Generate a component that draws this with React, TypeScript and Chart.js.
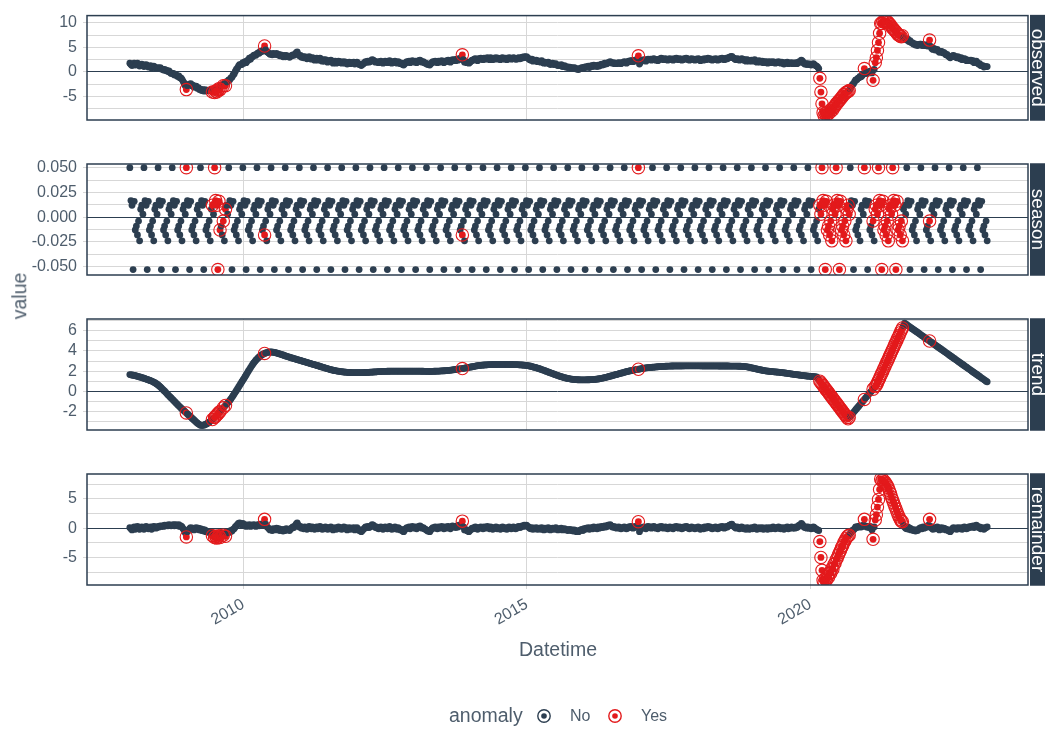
import { useEffect, useRef } from "react";
import { Chart, registerables } from "chart.js";

Chart.register(...registerables);

const FONT = '"Liberation Sans", Arial, Helvetica, sans-serif';
const DARK = "#2c3e50";
const RED = "#e31a1c";
const GRID = "#d7d7d7";
const LABEL = "#4e5d6c";

// Weekly series, first observation on 2008-01-01
const firstWeek = Date.UTC(2008, 0, 1);
const WEEK = 7 * 24 * 3600 * 1000;

// Each row holds one quarter (13 weeks)
const observed = [
  1.8, 1.5, 1.3, 1.6, 1.8, 1.4, 1.6, 1.8, 1.4, 1.2, 1.5, 1.6, 1.3,
  1.1, 1.4, 1.5, 1.3, 1.0, 1.1, 1.3, 0.8, 1.1, 1.2, 1.0, 0.8, 0.8,
  0.9, 0.7, 0.9, 0.6, 0.6, 0.4, 0.5, 0.3, 0.3, 0.1, 0.2, -0.1, -0.3,
  -0.3, -0.3, -0.6, -0.5, -0.7, -0.9, -0.8, -1.2, -1.2, -1.5, -1.9, -2.3, -2.8,
  -3.6, -2.8, -2.6, -2.5, -2.4, -2.8, -2.7, -3.1, -3.0, -2.9, -3.3, -3.2, -3.6,
  -3.5, -3.8, -3.6, -3.9, -3.6, -3.9, -3.7, -3.8, -3.7, -3.8, -3.6, -4.1, -3.6,
  -4.2, -3.9, -4.1, -3.7, -3.4, -3.6, -2.8, -2.6, -2.8, -2.4, -2.8, -2.0, -2.0,
  -1.6, -1.6, -1.2, -1.1, -0.6, -0.4, 0.1, 0.5, 0.8, 1.2, 1.5, 1.5, 1.5,
  1.9, 1.8, 2.1, 1.9, 2.3, 2.4, 2.8, 2.6, 3.0, 3.1, 3.4, 3.5, 3.4,
  3.7, 3.9, 3.8, 4.2, 4.1, 4.3, 4.5, 5.3, 4.5, 4.1, 4.0, 3.8, 3.6,
  3.7, 3.5, 3.8, 3.6, 3.6, 3.8, 3.5, 3.6, 3.3, 3.5, 3.3, 3.1, 3.4,
  3.1, 3.4, 3.2, 3.2, 3.0, 3.3, 3.3, 3.5, 3.4, 3.6, 3.9, 4.1, 3.6,
  3.3, 3.4, 3.0, 3.1, 2.9, 3.1, 2.9, 2.7, 2.9, 3.1, 2.8, 2.6, 2.9,
  2.8, 2.4, 2.6, 2.8, 2.4, 2.6, 2.8, 2.4, 2.2, 2.5, 2.2, 2.5, 2.3,
  2.0, 2.3, 2.1, 2.4, 2.1, 1.8, 2.0, 2.2, 1.8, 2.0, 2.2, 1.9, 2.1,
  1.8, 1.9, 2.1, 1.8, 2.0, 1.6, 1.8, 2.0, 1.7, 1.9, 1.8, 2.0, 1.6,
  1.8, 2.0, 1.7, 1.5, 1.6, 1.3, 1.5, 1.7, 1.9, 2.1, 2.0, 2.2, 2.0,
  2.1, 2.3, 2.5, 2.4, 2.2, 2.0, 2.1, 2.0, 1.9, 2.1, 2.2, 2.0, 1.8,
  2.0, 2.2, 2.1, 1.9, 2.1, 2.3, 2.0, 1.8, 2.1, 1.9, 2.2, 2.0, 1.8,
  2.1, 1.9, 1.7, 1.8, 1.5, 1.4, 1.7, 1.9, 2.1, 2.0, 2.2, 1.9, 2.1,
  2.3, 2.1, 2.0, 2.2, 1.9, 2.1, 2.3, 2.4, 2.2, 2.0, 2.1, 1.9, 1.8,
  1.7, 1.5, 1.6, 1.4, 1.7, 1.9, 2.1, 2.0, 2.2, 2.1, 1.9, 2.2, 2.0,
  2.1, 2.3, 2.1, 1.9, 2.2, 2.1, 2.3, 2.4, 2.2, 2.0, 2.3, 2.5, 2.3,
  2.5, 2.3, 2.6, 2.4, 2.7, 2.6, 2.9, 3.5, 2.5, 2.0, 2.1, 1.9, 1.9,
  1.8, 2.0, 2.2, 2.4, 2.4, 2.6, 2.7, 2.5, 2.3, 2.7, 2.6, 2.8, 2.7,
  2.5, 2.8, 2.6, 2.7, 2.9, 2.7, 2.5, 2.9, 2.7, 2.5, 2.8, 2.7, 2.9,
  2.6, 2.8, 2.7, 2.5, 2.8, 2.9, 2.7, 2.6, 2.8, 2.5, 2.7, 2.9, 2.8,
  2.6, 2.7, 2.9, 2.8, 2.6, 2.6, 2.8, 2.9, 2.7, 2.8, 3.0, 2.9, 3.1,
  3.0, 3.1, 2.9, 2.7, 2.5, 2.4, 2.6, 2.2, 2.4, 2.3, 2.4, 2.1, 2.2,
  2.2, 2.0, 2.3, 2.0, 1.8, 2.0, 1.8, 1.9, 2.0, 1.7, 1.5, 1.7, 1.8,
  1.5, 1.6, 1.7, 1.4, 1.3, 1.4, 1.3, 1.5, 1.1, 1.2, 1.3, 1.0, 1.1,
  0.9, 1.0, 1.0, 0.8, 0.9, 0.7, 0.9, 0.8, 0.6, 0.6, 0.5, 0.7, 0.8,
  0.9, 0.7, 1.0, 0.9, 1.1, 1.0, 1.2, 0.9, 1.2, 1.3, 1.1, 1.4, 1.2,
  1.3, 1.1, 1.4, 1.2, 1.4, 1.6, 1.4, 1.5, 1.8, 1.6, 1.7, 1.9, 1.9,
  2.1, 1.9, 1.8, 1.9, 1.7, 1.8, 1.7, 1.8, 1.9, 1.8, 1.7, 1.9, 1.9,
  2.1, 2.0, 1.8, 2.0, 2.2, 2.1, 2.3, 2.3, 2.1, 2.2, 2.4, 2.3, 2.6,
  3.3, 1.6, 2.0, 2.3, 2.3, 2.5, 2.4, 2.2, 2.5, 2.6, 2.5, 2.6, 2.4,
  2.5, 2.7, 2.6, 2.4, 2.5, 2.3, 2.6, 2.6, 2.8, 2.7, 2.5, 2.6, 2.7,
  2.5, 2.4, 2.6, 2.7, 2.5, 2.6, 2.4, 2.7, 2.6, 2.8, 2.6, 2.5, 2.7,
  2.6, 2.4, 2.5, 2.7, 2.6, 2.8, 2.7, 2.5, 2.4, 2.6, 2.7, 2.5, 2.6,
  2.4, 2.6, 2.5, 2.7, 2.6, 2.3, 2.5, 2.6, 2.4, 2.7, 2.5, 2.6, 2.8,
  2.6, 2.7, 2.5, 2.4, 2.6, 2.5, 2.7, 2.6, 2.4, 2.5, 2.7, 2.6, 2.8,
  2.7, 2.5, 2.6, 2.8, 2.7, 2.9, 3.0, 3.1, 3.2, 2.9, 2.8, 2.6, 2.5,
  2.7, 2.6, 2.4, 2.5, 2.7, 2.6, 2.4, 2.5, 2.2, 2.5, 2.4, 2.2, 2.3,
  2.4, 2.2, 2.3, 2.5, 2.2, 2.0, 2.1, 2.3, 2.0, 2.1, 2.2, 1.9, 2.1,
  1.9, 2.1, 1.8, 2.0, 2.1, 1.9, 2.0, 2.1, 1.9, 1.8, 2.0, 1.9, 2.1,
  1.9, 1.8, 2.0, 1.8, 1.6, 1.9, 1.8, 2.0, 1.7, 1.8, 1.8, 1.9, 1.7,
  1.8, 1.7, 1.9, 1.7, 1.9, 2.1, 2.0, 2.4, 2.2, 1.9, 1.6, 1.7, 1.5,
  1.7, 1.5, 1.6, 1.4, 1.5, 1.7, 1.5, 1.3, 1.2, 1.0, 0.7, -1.3, -4.1,
  -6.5, -8.3, -8.9, -8.4, -8.8, -8.2, -8.5, -7.9, -8.1, -7.5, -7.7, -7.1, -7.0,
  -6.5, -6.4, -6.0, -5.8, -5.5, -5.2, -5.0, -4.6, -4.5, -4.2, -4.1, -4.0, -3.8,
  -3.4, -3.0, -2.6, -2.4, -2.0, -1.6, -1.6, -1.3, -1.2, -0.9, -1.0, -0.7, -0.4,
  0.7, -0.3, -0.3, -0.1, -0.2, 0.1, 0.2, -0.2, -1.7, 0.5, 1.9, 2.9, 4.4,
  6.0, 7.9, 9.9, 9.9, 10.3, 10.2, 10.4, 10.3, 10.3, 10.1, 9.8, 9.6, 9.2,
  8.9, 8.7, 8.4, 8.2, 7.9, 7.6, 7.5, 7.3, 7.2, 7.4, 7.0, 6.9, 6.7,
  6.5, 6.7, 6.2, 6.4, 6.0, 6.0, 5.7, 5.8, 5.5, 5.6, 5.4, 5.6, 5.7,
  5.7, 5.4, 5.6, 5.4, 5.4, 5.5, 5.3, 5.6, 6.5, 5.2, 4.8, 4.6, 4.8,
  4.5, 4.5, 4.6, 4.3, 4.0, 4.2, 4.2, 3.9, 4.0, 3.8, 3.5, 3.6, 3.3,
  3.1, 2.9, 3.2, 3.3, 3.4, 3.1, 3.1, 2.9, 3.1, 2.9, 2.7, 2.9, 2.5,
  2.6, 2.7, 2.6, 2.3, 2.3, 2.4, 2.3, 2.4, 2.2, 2.3, 1.9, 2.1, 2.2,
  1.9, 1.6, 1.7, 1.3, 1.3, 1.3, 1.0, 1.1, 1.1, 1.1,
];

// The seasonal component repeats every 13 weeks
const seasonProfile = [
  0.05, 0.0167, 0.012, -0.053, 0.016, -0.013, -0.009, -0.018, -0.004, -0.024, 0.008, 0.012, 0.003,
];

const trend = [
  1.66, 1.64, 1.62, 1.6, 1.57, 1.55, 1.52, 1.49, 1.46, 1.43, 1.4, 1.37, 1.33,
  1.3, 1.26, 1.22, 1.18, 1.14, 1.1, 1.06, 1.02, 0.97, 0.91, 0.85, 0.78, 0.71,
  0.63, 0.54, 0.45, 0.34, 0.23, 0.12, 0.01, -0.1, -0.22, -0.33, -0.44, -0.55, -0.66,
  -0.77, -0.88, -0.99, -1.1, -1.21, -1.32, -1.43, -1.53, -1.64, -1.74, -1.84, -1.94, -2.04,
  -2.14, -2.24, -2.34, -2.44, -2.54, -2.64, -2.74, -2.84, -2.94, -3.04, -3.13, -3.22, -3.29,
  -3.35, -3.38, -3.37, -3.35, -3.31, -3.26, -3.2, -3.13, -3.05, -2.97, -2.88, -2.79, -2.69,
  -2.58, -2.47, -2.35, -2.23, -2.11, -1.99, -1.87, -1.75, -1.63, -1.51, -1.39, -1.27, -1.15,
  -1.03, -0.9, -0.75, -0.59, -0.43, -0.27, -0.1, 0.07, 0.24, 0.41, 0.58, 0.76, 0.93,
  1.1, 1.27, 1.45, 1.63, 1.81, 1.99, 2.16, 2.33, 2.5, 2.66, 2.81, 2.95, 3.08,
  3.2, 3.31, 3.41, 3.5, 3.58, 3.65, 3.71, 3.76, 3.8, 3.84, 3.87, 3.89, 3.9,
  3.9, 3.89, 3.88, 3.86, 3.83, 3.8, 3.77, 3.74, 3.71, 3.67, 3.63, 3.6, 3.56,
  3.52, 3.49, 3.45, 3.42, 3.38, 3.35, 3.31, 3.28, 3.25, 3.22, 3.18, 3.15, 3.12,
  3.09, 3.06, 3.03, 2.99, 2.96, 2.93, 2.9, 2.86, 2.83, 2.8, 2.77, 2.73, 2.7,
  2.67, 2.64, 2.6, 2.57, 2.54, 2.51, 2.47, 2.44, 2.41, 2.38, 2.34, 2.31, 2.28,
  2.25, 2.21, 2.18, 2.15, 2.12, 2.09, 2.07, 2.05, 2.03, 2.01, 1.99, 1.98, 1.96,
  1.95, 1.93, 1.92, 1.91, 1.9, 1.89, 1.88, 1.87, 1.87, 1.86, 1.86, 1.85, 1.85,
  1.85, 1.85, 1.85, 1.85, 1.85, 1.86, 1.86, 1.86, 1.87, 1.87, 1.88, 1.88, 1.89,
  1.9, 1.9, 1.91, 1.92, 1.93, 1.93, 1.94, 1.95, 1.95, 1.96, 1.96, 1.97, 1.97,
  1.98, 1.98, 1.98, 1.99, 1.99, 1.99, 2.0, 2.0, 2.0, 2.0, 2.0, 2.0, 2.0,
  2.0, 2.0, 2.0, 2.0, 2.0, 2.0, 2.0, 2.0, 2.0, 2.0, 2.0, 2.0, 2.0,
  2.0, 2.0, 2.0, 2.0, 2.0, 2.0, 2.0, 2.0, 1.99, 1.99, 1.99, 1.98, 1.98,
  1.98, 1.97, 1.97, 1.97, 1.97, 1.98, 1.98, 1.99, 1.99, 2.0, 2.0, 2.01, 2.01,
  2.02, 2.02, 2.03, 2.04, 2.04, 2.05, 2.06, 2.07, 2.08, 2.1, 2.11, 2.13, 2.14,
  2.16, 2.17, 2.19, 2.2, 2.22, 2.23, 2.25, 2.26, 2.28, 2.3, 2.32, 2.34, 2.36,
  2.38, 2.4, 2.42, 2.44, 2.46, 2.48, 2.5, 2.52, 2.54, 2.55, 2.57, 2.58, 2.59,
  2.6, 2.61, 2.62, 2.63, 2.63, 2.64, 2.64, 2.65, 2.65, 2.66, 2.66, 2.66, 2.66,
  2.67, 2.67, 2.67, 2.67, 2.67, 2.67, 2.67, 2.67, 2.67, 2.67, 2.67, 2.66, 2.66,
  2.66, 2.66, 2.65, 2.65, 2.65, 2.64, 2.64, 2.63, 2.63, 2.62, 2.61, 2.6, 2.59,
  2.58, 2.57, 2.55, 2.53, 2.51, 2.49, 2.46, 2.43, 2.4, 2.37, 2.34, 2.31, 2.27,
  2.24, 2.2, 2.16, 2.12, 2.08, 2.04, 2.0, 1.96, 1.92, 1.88, 1.84, 1.8, 1.76,
  1.72, 1.68, 1.64, 1.6, 1.56, 1.52, 1.49, 1.45, 1.42, 1.39, 1.36, 1.33, 1.3,
  1.28, 1.26, 1.24, 1.22, 1.2, 1.19, 1.18, 1.17, 1.16, 1.15, 1.15, 1.14, 1.14,
  1.14, 1.14, 1.14, 1.14, 1.14, 1.15, 1.15, 1.15, 1.16, 1.16, 1.17, 1.18, 1.19,
  1.2, 1.21, 1.23, 1.25, 1.27, 1.29, 1.31, 1.34, 1.36, 1.39, 1.41, 1.44, 1.47,
  1.5, 1.53, 1.56, 1.59, 1.62, 1.65, 1.68, 1.71, 1.74, 1.77, 1.8, 1.83, 1.86,
  1.89, 1.92, 1.95, 1.97, 2.0, 2.02, 2.05, 2.07, 2.09, 2.11, 2.13, 2.15, 2.17,
  2.19, 2.21, 2.23, 2.25, 2.27, 2.29, 2.31, 2.33, 2.34, 2.35, 2.36, 2.37, 2.38,
  2.39, 2.4, 2.41, 2.42, 2.43, 2.44, 2.45, 2.46, 2.46, 2.47, 2.48, 2.48, 2.49,
  2.49, 2.5, 2.5, 2.5, 2.51, 2.51, 2.51, 2.52, 2.52, 2.52, 2.52, 2.52, 2.52,
  2.52, 2.52, 2.52, 2.53, 2.53, 2.53, 2.53, 2.53, 2.53, 2.53, 2.53, 2.53, 2.53,
  2.53, 2.53, 2.53, 2.53, 2.53, 2.53, 2.52, 2.52, 2.52, 2.52, 2.52, 2.52, 2.52,
  2.52, 2.52, 2.52, 2.52, 2.52, 2.52, 2.52, 2.52, 2.52, 2.51, 2.51, 2.51, 2.51,
  2.51, 2.51, 2.51, 2.51, 2.51, 2.51, 2.5, 2.5, 2.5, 2.5, 2.5, 2.5, 2.5,
  2.5, 2.49, 2.49, 2.49, 2.48, 2.48, 2.47, 2.46, 2.45, 2.43, 2.41, 2.39, 2.36,
  2.34, 2.31, 2.29, 2.26, 2.24, 2.21, 2.19, 2.16, 2.14, 2.12, 2.09, 2.07, 2.05,
  2.03, 2.02, 2.0, 1.99, 1.98, 1.97, 1.96, 1.95, 1.94, 1.93, 1.92, 1.91, 1.9,
  1.89, 1.87, 1.86, 1.85, 1.83, 1.82, 1.8, 1.79, 1.77, 1.76, 1.74, 1.72, 1.71,
  1.69, 1.68, 1.66, 1.65, 1.63, 1.62, 1.6, 1.59, 1.57, 1.56, 1.55, 1.53, 1.52,
  1.51, 1.5, 1.49, 1.48, 1.47, 1.46, 1.45, 1.44, 1.43, 1.29, 1.14, 1.0, 0.86,
  0.72, 0.57, 0.43, 0.29, 0.14, 0.0, -0.14, -0.29, -0.43, -0.57, -0.71, -0.86, -1.0,
  -1.14, -1.29, -1.43, -1.57, -1.72, -1.86, -2.0, -2.15, -2.29, -2.43, -2.58, -2.72, -2.59,
  -2.46, -2.34, -2.21, -2.08, -1.95, -1.82, -1.69, -1.57, -1.44, -1.31, -1.18, -1.05, -0.93,
  -0.8, -0.67, -0.54, -0.41, -0.29, -0.16, -0.03, 0.1, 0.22, 0.35, 0.48, 0.6, 0.84,
  1.07, 1.31, 1.55, 1.78, 2.02, 2.26, 2.5, 2.73, 2.97, 3.2, 3.44, 3.68, 3.92,
  4.15, 4.39, 4.63, 4.86, 5.1, 5.34, 5.57, 5.81, 6.05, 6.28, 6.52, 6.75, 6.67,
  6.6, 6.52, 6.44, 6.37, 6.29, 6.21, 6.14, 6.06, 5.98, 5.91, 5.83, 5.76, 5.68,
  5.6, 5.52, 5.45, 5.37, 5.29, 5.22, 5.14, 5.07, 4.99, 4.91, 4.84, 4.76, 4.68,
  4.61, 4.53, 4.45, 4.38, 4.3, 4.22, 4.15, 4.07, 4.0, 3.92, 3.84, 3.77, 3.69,
  3.61, 3.53, 3.46, 3.38, 3.3, 3.23, 3.15, 3.07, 3.0, 2.92, 2.85, 2.77, 2.69,
  2.61, 2.54, 2.46, 2.39, 2.31, 2.23, 2.16, 2.08, 2.0, 1.93, 1.85, 1.78, 1.7,
  1.62, 1.55, 1.47, 1.39, 1.32, 1.24, 1.17, 1.09, 1.01, 0.94,
];

const remainder = [
  0.1, -0.1, -0.3, 0.0, 0.2, -0.2, 0.1, 0.3, -0.1, -0.2, 0.1, 0.2, 0.0,
  -0.2, 0.1, 0.3, 0.1, -0.1, 0.0, 0.2, -0.2, 0.1, 0.3, 0.2, 0.0, 0.1,
  0.3, 0.2, 0.4, 0.3, 0.4, 0.3, 0.5, 0.4, 0.5, 0.4, 0.6, 0.5, 0.4,
  0.5, 0.6, 0.4, 0.6, 0.5, 0.4, 0.6, 0.3, 0.4, 0.2, -0.1, -0.4, -0.8,
  -1.5, -0.6, -0.3, -0.1, 0.1, -0.2, 0.0, -0.3, -0.1, 0.1, -0.2, 0.0, -0.3,
  -0.1, -0.4, -0.2, -0.5, -0.3, -0.6, -0.5, -0.7, -0.6, -0.8, -0.7, -1.3, -0.9,
  -1.6, -1.4, -1.7, -1.5, -1.3, -1.6, -0.9, -0.8, -1.2, -0.9, -1.4, -0.7, -0.8,
  -0.6, -0.7, -0.4, -0.5, -0.2, -0.1, 0.2, 0.4, 0.6, 0.8, 0.9, 0.7, 0.6,
  0.8, 0.5, 0.6, 0.3, 0.5, 0.4, 0.6, 0.3, 0.5, 0.4, 0.6, 0.5, 0.3,
  0.5, 0.6, 0.4, 0.7, 0.5, 0.6, 0.8, 1.5, 0.7, 0.3, 0.1, -0.1, -0.3,
  -0.2, -0.4, -0.1, -0.3, -0.2, 0.0, -0.3, -0.1, -0.4, -0.2, -0.3, -0.5, -0.2,
  -0.4, -0.1, -0.3, -0.2, -0.4, -0.1, 0.0, 0.2, 0.1, 0.4, 0.7, 0.9, 0.5,
  0.2, 0.3, 0.0, 0.1, -0.1, 0.2, 0.0, -0.2, 0.1, 0.3, 0.0, -0.1, 0.2,
  0.1, -0.2, 0.0, 0.2, -0.1, 0.1, 0.3, 0.0, -0.2, 0.1, -0.1, 0.2, 0.0,
  -0.2, 0.1, -0.1, 0.2, 0.0, -0.3, -0.1, 0.1, -0.2, 0.0, 0.2, -0.1, 0.1,
  -0.2, 0.0, 0.2, -0.1, 0.1, -0.3, -0.1, 0.1, -0.2, 0.0, -0.1, 0.1, -0.3,
  -0.1, 0.1, -0.2, -0.4, -0.3, -0.6, -0.4, -0.2, 0.0, 0.2, 0.1, 0.3, 0.1,
  0.2, 0.4, 0.6, 0.5, 0.3, 0.1, 0.2, 0.0, -0.1, 0.1, 0.2, 0.0, -0.2,
  0.0, 0.2, 0.1, -0.1, 0.1, 0.3, 0.0, -0.2, 0.1, -0.1, 0.2, 0.0, -0.2,
  0.1, -0.1, -0.3, -0.2, -0.5, -0.6, -0.3, -0.1, 0.1, 0.0, 0.2, -0.1, 0.1,
  0.3, 0.1, 0.0, 0.2, -0.1, 0.1, 0.3, 0.4, 0.2, 0.0, 0.1, -0.1, -0.2,
  -0.3, -0.5, -0.4, -0.6, -0.3, -0.1, 0.1, 0.0, 0.2, 0.1, -0.1, 0.2, 0.0,
  0.1, 0.3, 0.1, -0.1, 0.2, 0.0, 0.2, 0.3, 0.1, -0.1, 0.2, 0.4, 0.2,
  0.3, 0.1, 0.4, 0.2, 0.5, 0.4, 0.6, 1.2, 0.2, -0.3, -0.2, -0.4, -0.5,
  -0.6, -0.4, -0.2, 0.0, -0.1, 0.1, 0.2, 0.0, -0.2, 0.1, 0.0, 0.2, 0.1,
  -0.1, 0.2, 0.0, 0.1, 0.3, 0.1, -0.1, 0.2, 0.0, -0.2, 0.1, 0.0, 0.2,
  -0.1, 0.1, 0.0, -0.2, 0.1, 0.2, 0.0, -0.1, 0.1, -0.2, 0.0, 0.2, 0.1,
  -0.1, 0.0, 0.2, 0.1, -0.1, 0.0, 0.2, 0.3, 0.1, 0.2, 0.4, 0.3, 0.5,
  0.4, 0.5, 0.3, 0.2, 0.0, -0.1, 0.1, -0.2, 0.0, -0.1, 0.1, -0.2, -0.1,
  0.0, -0.2, 0.1, -0.1, -0.3, 0.0, -0.2, -0.1, 0.1, -0.2, -0.3, -0.1, 0.0,
  -0.2, -0.1, 0.1, -0.2, -0.3, -0.1, -0.2, 0.0, -0.3, -0.2, -0.1, -0.3, -0.2,
  -0.4, -0.3, -0.2, -0.4, -0.3, -0.5, -0.3, -0.4, -0.6, -0.5, -0.6, -0.4, -0.3,
  -0.2, -0.4, -0.1, -0.2, 0.0, -0.1, 0.1, -0.2, 0.0, 0.1, -0.1, 0.2, 0.0,
  0.1, -0.1, 0.2, 0.0, 0.1, 0.3, 0.1, 0.2, 0.4, 0.2, 0.3, 0.5, 0.4,
  0.6, 0.4, 0.2, 0.3, 0.1, 0.2, 0.0, 0.1, 0.2, 0.0, -0.1, 0.1, 0.0,
  0.2, 0.1, -0.1, 0.0, 0.2, 0.1, 0.3, 0.2, 0.0, 0.1, 0.3, 0.2, 0.4,
  1.1, -0.6, -0.2, 0.1, 0.0, 0.2, 0.1, -0.1, 0.2, 0.3, 0.1, 0.2, 0.0,
  0.1, 0.3, 0.2, 0.0, 0.1, -0.1, 0.2, 0.1, 0.3, 0.2, 0.0, 0.1, 0.2,
  0.0, -0.1, 0.1, 0.2, 0.0, 0.1, -0.1, 0.2, 0.1, 0.3, 0.1, 0.0, 0.2,
  0.1, -0.1, 0.0, 0.2, 0.1, 0.3, 0.2, 0.0, -0.1, 0.1, 0.2, 0.0, 0.1,
  -0.1, 0.1, 0.0, 0.2, 0.1, -0.2, 0.0, 0.1, -0.1, 0.2, 0.0, 0.1, 0.3,
  0.1, 0.2, 0.0, -0.1, 0.1, 0.0, 0.2, 0.1, -0.1, 0.0, 0.2, 0.1, 0.3,
  0.2, 0.0, 0.1, 0.3, 0.2, 0.4, 0.5, 0.6, 0.7, 0.4, 0.3, 0.1, 0.0,
  0.2, 0.1, -0.1, 0.0, 0.2, 0.1, -0.1, 0.0, -0.2, 0.1, 0.0, -0.2, -0.1,
  0.1, -0.1, 0.0, 0.2, 0.0, -0.2, -0.1, 0.1, -0.1, 0.0, 0.1, -0.2, 0.0,
  -0.1, 0.1, -0.2, 0.0, 0.1, -0.1, 0.0, 0.2, 0.0, -0.1, 0.1, 0.0, 0.2,
  0.0, -0.1, 0.1, 0.0, -0.2, 0.1, 0.0, 0.2, -0.1, 0.0, 0.1, 0.2, 0.0,
  0.1, 0.0, 0.2, 0.1, 0.3, 0.5, 0.4, 0.8, 0.6, 0.3, 0.1, 0.2, 0.0,
  0.2, 0.0, 0.1, -0.1, 0.0, 0.2, 0.1, -0.1, -0.2, -0.3, -0.4, -2.3, -5.0,
  -7.2, -8.9, -9.3, -8.7, -8.9, -8.2, -8.4, -7.6, -7.7, -6.9, -7.0, -6.2, -6.0,
  -5.4, -5.1, -4.6, -4.2, -3.8, -3.3, -3.0, -2.5, -2.2, -1.8, -1.5, -1.3, -1.2,
  -0.9, -0.7, -0.4, -0.3, -0.1, 0.2, 0.1, 0.3, 0.2, 0.4, 0.2, 0.3, 0.5,
  1.5, 0.4, 0.2, 0.3, 0.1, 0.3, 0.2, -0.3, -1.9, 0.2, 1.4, 2.3, 3.6,
  4.9, 6.6, 8.4, 8.1, 8.3, 7.9, 7.9, 7.6, 7.3, 6.9, 6.4, 5.9, 5.3,
  4.8, 4.3, 3.8, 3.3, 2.8, 2.3, 1.9, 1.5, 1.2, 1.1, 0.5, 0.2, 0.0,
  -0.1, 0.2, -0.2, 0.0, -0.3, -0.2, -0.4, -0.3, -0.5, -0.3, -0.4, -0.2, 0.0,
  0.1, -0.1, 0.2, 0.0, 0.1, 0.3, 0.2, 0.5, 1.5, 0.3, 0.0, -0.2, 0.1,
  -0.1, 0.0, 0.2, -0.1, -0.3, 0.0, 0.1, -0.2, 0.0, -0.1, -0.3, -0.2, -0.4,
  -0.5, -0.6, -0.3, -0.1, 0.1, -0.1, 0.0, -0.2, 0.1, 0.0, -0.1, 0.1, -0.2,
  0.0, 0.2, 0.1, -0.1, 0.0, 0.2, 0.1, 0.3, 0.2, 0.4, 0.1, 0.3, 0.5,
  0.3, 0.1, 0.2, -0.1, 0.0, 0.1, -0.2, 0.0, 0.1, 0.2,
];

// Week numbers flagged as anomalies
const anomalyWeeks = [
  52, 76, 78, 79, 80, 81, 82, 83, 86, 88, 124, 306, 468,
  635, 636, 637, 638, 639, 640, 641, 642, 643, 644, 645, 646, 647, 648, 649,
  650, 651, 652, 653, 654, 655, 656, 657, 658, 659, 660, 661, 662,
  676, 684,
  686, 687, 688, 689, 690, 691, 692, 693, 694, 695, 696, 697, 698, 699,
  700, 701, 702, 703, 704, 705, 706, 707, 708, 709, 710, 711,
  736,
];

// Axis ticks: every value gets a grid line, the labelled ones also get text
const observedGrid = [-7.5, -5, -2.5, 0, 2.5, 5, 7.5, 10];
const observedLabels = [-5, 0, 5, 10];
const seasonGrid = [-0.05, -0.0375, -0.025, -0.0125, 0, 0.0125, 0.025, 0.0375, 0.05];
const seasonLabels = [-0.05, -0.025, 0, 0.025, 0.05];
const trendGrid = [-3, -2, -1, 0, 1, 2, 3, 4, 5, 6, 7];
const trendLabels = [-2, 0, 2, 4, 6];
const remainderGrid = [-7.5, -5, -2.5, 0, 2.5, 5, 7.5];
const remainderLabels = [-5, 0, 5];
const yearTicks = [2010, 2015, 2020];

const season = trend.map((_, i) => seasonProfile[i % seasonProfile.length]);

// Page geometry
const W = 1045;
const H = 731;
const PANEL_LEFT = 87;
const PANEL_RIGHT = 1028;
const STRIP_LEFT = 1030;
const X_AXIS_H = 50;
const X_MIN = Date.UTC(2007, 2, 31);
const X_MAX = Date.UTC(2023, 10, 4);

type PanelDef = {
  key: string;
  values: number[];
  grid: number[];
  labels: number[];
  digits: number;
  min: number;
  max: number;
  top: number;
  bottom: number;
};

const panels: PanelDef[] = [
  { key: "observed", values: observed, grid: observedGrid, labels: observedLabels, digits: 0, min: -9.8, max: 11.5, top: 9, bottom: 120 },
  { key: "season", values: season, grid: seasonGrid, labels: seasonLabels, digits: 3, min: -0.0585, max: 0.0537, top: 164, bottom: 275 },
  { key: "trend", values: trend, grid: trendGrid, labels: trendLabels, digits: 0, min: -3.83, max: 7.17, top: 319, bottom: 430 },
  { key: "remainder", values: remainder, grid: remainderGrid, labels: remainderLabels, digits: 0, min: -9.71, max: 9.25, top: 474, bottom: 585 },
];

const anomalySet = new Set(anomalyWeeks);

function isLabel(list: number[], v: number) {
  return list.some((l) => Math.abs(l - v) < 1e-9);
}

function Panel({ def, showX }: { def: PanelDef; showX: boolean }) {
  const ref = useRef<HTMLCanvasElement | null>(null);

  useEffect(() => {
    const canvas = ref.current;
    if (!canvas) return;
    const points = def.values.map((v, i) => ({ x: firstWeek + i * WEEK, y: v }));
    const rings = anomalyWeeks.map((i) => points[i]);
    const colors = def.values.map((_, i) => (anomalySet.has(i) ? RED : DARK));
    const tickFont = { family: FONT, size: 16 };

    const frame = {
      id: "frame-" + def.key,
      afterDraw(chart: any) {
        const { ctx, chartArea: a } = chart;
        ctx.save();
        ctx.strokeStyle = DARK;
        ctx.lineWidth = 1.5;
        ctx.strokeRect(a.left, a.top, a.right - a.left, a.bottom - a.top);
        ctx.fillStyle = DARK;
        ctx.fillRect(STRIP_LEFT, a.top - 0.75, 40, a.bottom - a.top + 1.5);
        ctx.translate(1032, (a.top + a.bottom) / 2);
        ctx.rotate(Math.PI / 2);
        ctx.fillStyle = "#ffffff";
        ctx.font = `19px ${FONT}`;
        ctx.textAlign = "center";
        ctx.textBaseline = "alphabetic";
        ctx.fillText(def.key, 0, 0);
        ctx.restore();
      },
    };

    const chart = new Chart(canvas, {
      type: "scatter",
      data: {
        datasets: [
          {
            data: rings,
            pointRadius: 6.2,
            pointHoverRadius: 6.2,
            pointBorderWidth: 1.1,
            pointBorderColor: RED,
            pointBackgroundColor: "rgba(0,0,0,0)",
            order: 0,
            clip: 0,
          },
          {
            data: points,
            pointRadius: 3.4,
            pointHoverRadius: 3.4,
            pointBorderWidth: 0,
            pointBackgroundColor: colors,
            order: 1,
            clip: 0,
          },
        ],
      },
      options: {
        responsive: false,
        animation: false,
        events: [],
        layout: {
          autoPadding: false,
          padding: {
            left: 0,
            right: W - PANEL_RIGHT,
            top: def.top,
            bottom: H - def.bottom - (showX ? X_AXIS_H : 0),
          },
        },
        plugins: { legend: { display: false }, tooltip: { enabled: false } },
        scales: {
          x: {
            type: "linear",
            min: X_MIN,
            max: X_MAX,
            afterBuildTicks: (s: any) => {
              s.ticks = yearTicks.map((y) => ({ value: Date.UTC(y, 0, 1) }));
            },
            afterFit: (s: any) => {
              s.height = showX ? X_AXIS_H : 0;
            },
            grid: { color: GRID, lineWidth: 1, drawTicks: showX, tickLength: 4, tickColor: GRID },
            border: { display: false },
            ticks: {
              display: showX,
              autoSkip: false,
              minRotation: 30,
              maxRotation: 30,
              padding: 6,
              color: LABEL,
              font: tickFont,
              callback: (v: any) => String(new Date(Number(v)).getUTCFullYear()),
            },
          },
          y: {
            type: "linear",
            min: def.min,
            max: def.max,
            afterBuildTicks: (s: any) => {
              s.ticks = def.grid.map((v) => ({ value: v }));
            },
            afterFit: (s: any) => {
              s.width = PANEL_LEFT;
            },
            grid: {
              color: (c: any) => (c.tick && Math.abs(c.tick.value) < 1e-9 ? DARK : GRID),
              lineWidth: 1,
              drawTicks: true,
              tickLength: 4,
              tickColor: (c: any) => (c.tick && isLabel(def.labels, c.tick.value) ? GRID : "rgba(0,0,0,0)"),
            },
            border: { display: false },
            ticks: {
              autoSkip: false,
              padding: 6,
              color: LABEL,
              font: tickFont,
              callback: (v: any) => (isLabel(def.labels, Number(v)) ? Number(v).toFixed(def.digits) : ""),
            },
          },
        },
      } as any,
      plugins: [frame],
    });
    return () => chart.destroy();
  }, [def, showX]);

  return (
    <canvas
      ref={ref}
      width={W}
      height={H}
      style={{ position: "absolute", left: 0, top: 0, width: W, height: H }}
    />
  );
}

function LegendKey({ color }: { color: string }) {
  return (
    <svg width={16} height={16} style={{ position: "absolute", transform: "translate(-50%, -50%)" }}>
      <circle cx={8} cy={8} r={6.2} fill="none" stroke={color} strokeWidth={1.4} />
      <circle cx={8} cy={8} r={2.8} fill={color} />
    </svg>
  );
}

const textBase: any = {
  position: "absolute",
  fontFamily: FONT,
  color: LABEL,
  whiteSpace: "nowrap",
  lineHeight: 1,
};

export default function App() {
  return (
    <div style={{ position: "absolute", left: 0, top: 0, width: W, height: H, background: "#ffffff", overflow: "hidden" }}>
      {panels.map((p, k) => (
        <Panel key={p.key} def={p} showX={k === panels.length - 1} />
      ))}
      <div style={{ ...textBase, left: 20, top: 296, fontSize: 19.5, transform: "translate(-50%, -50%) rotate(-90deg)" }}>
        value
      </div>
      <div style={{ ...textBase, left: 558, top: 650, fontSize: 19.5, transform: "translate(-50%, -50%)" }}>
        Datetime
      </div>
      <div style={{ ...textBase, left: 449, top: 716, fontSize: 19.5, transform: "translateY(-50%)" }}>anomaly</div>
      <div style={{ position: "absolute", left: 544, top: 716 }}>
        <LegendKey color={DARK} />
      </div>
      <div style={{ ...textBase, left: 570, top: 716, fontSize: 16, transform: "translateY(-50%)" }}>No</div>
      <div style={{ position: "absolute", left: 615, top: 716 }}>
        <LegendKey color={RED} />
      </div>
      <div style={{ ...textBase, left: 641, top: 716, fontSize: 16, transform: "translateY(-50%)" }}>Yes</div>
    </div>
  );
}
